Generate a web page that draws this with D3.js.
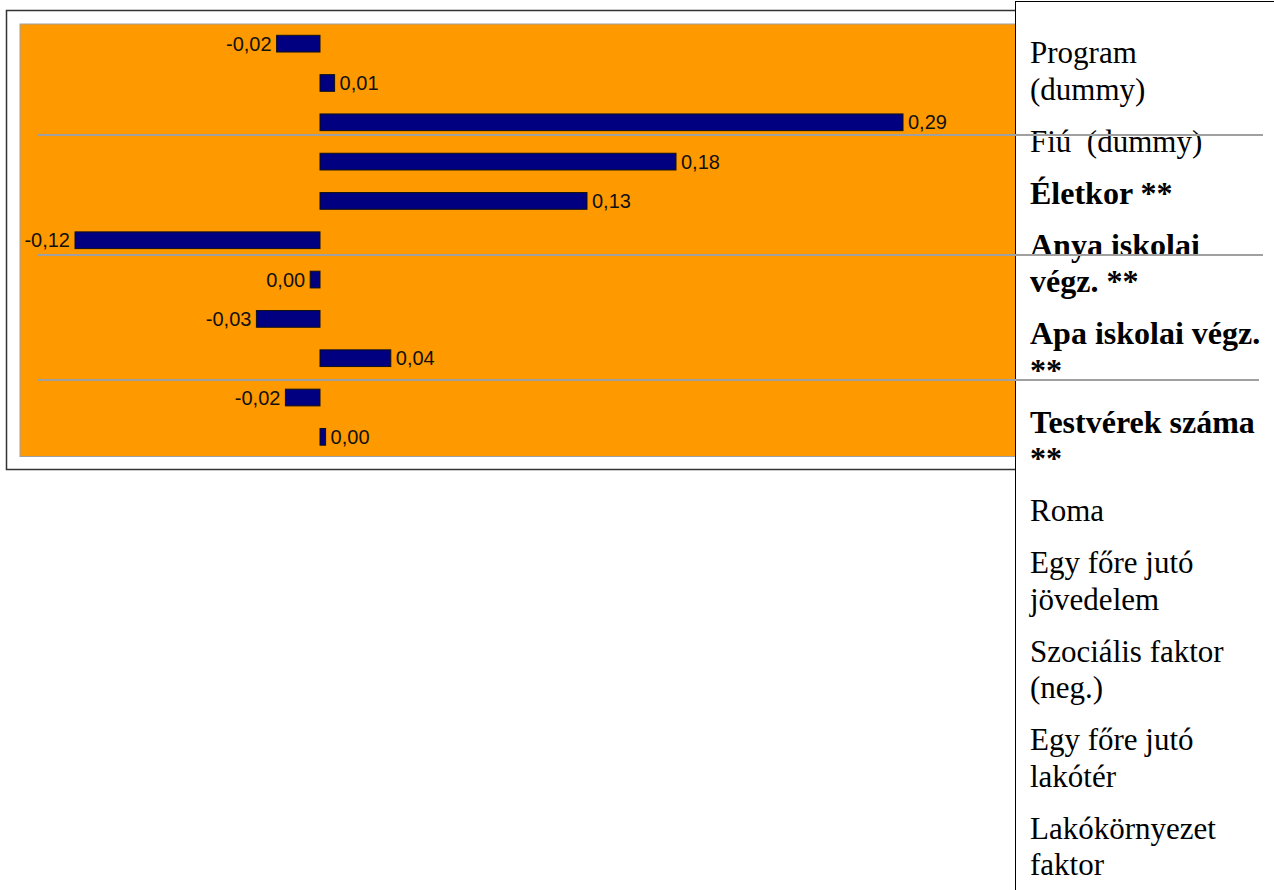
<!DOCTYPE html>
<html>
<head>
<meta charset="utf-8">
<script src="https://cdn.jsdelivr.net/npm/d3@7"></script>
<style>
  html, body { margin: 0; padding: 0; background: #fff; }
  svg { display: block; }
</style>
</head>
<body>
<svg id="chart" width="1274" height="890"></svg>
<script>
// ---- data ----
const categories = [
  "Program (dummy)", "Fiú (dummy)", "Életkor", "Anya iskolai végz.", "Apa iskolai végz.",
  "Testvérek száma", "Roma", "Egy főre jutó jövedelem", "Szociális faktor (neg.)",
  "Egy főre jutó lakótér", "Lakókörnyezet faktor"
];
const values = [-0.0217, 0.0073, 0.2915, 0.178, 0.1335, -0.1225, -0.0049, -0.0318, 0.0354, -0.0173, 0.0028];
const labelLines = [
  ["Program", "(dummy)"],
  ["Fiú  (dummy)"],
  ["Életkor **"],
  ["Anya iskolai", "végz. **"],
  ["Apa iskolai végz.", "**"],
  ["Testvérek száma", "**"],
  ["Roma"],
  ["Egy főre jutó", "jövedelem"],
  ["Szociális faktor", "(neg.)"],
  ["Egy főre jutó", "lakótér"],
  ["Lakókörnyezet", "faktor"]
];
const significant = [false, false, true, true, true, true, false, false, false, false, false];
const xDomain = [-0.15, 0.35];

// ---- layout ----
const svg = d3.select("#chart");
const plot = { left: 20, top: 24, right: 1020, bottom: 456.5 };

// outer chart frame
svg.append("rect")
  .attr("x", 6.5).attr("y", 10.5).attr("width", 1100).attr("height", 459)
  .attr("fill", "#fff").attr("stroke", "#333").attr("stroke-width", 1.5);

const x = d3.scaleLinear().domain(xDomain).range([plot.left, plot.right]);
const y = d3.scaleBand().domain(categories).range([plot.top, plot.bottom])
  .paddingInner(0.575).paddingOuter(0.2875);

svg.append("rect")
  .attr("x", plot.left).attr("y", plot.top)
  .attr("width", 1090 - plot.left).attr("height", plot.bottom - plot.top)
  .attr("fill", "#FF9900").attr("stroke", "#A0A0A0").attr("stroke-width", 1);

const fmt = v => {
  let s = d3.format(".2f")(v).replace("\u2212", "-");
  if (s === "-0.00") s = "0.00";
  return s.replace(".", ",");
};

const g = svg.append("g");
categories.forEach((c, i) => {
  const v = values[i];
  const x0 = x(Math.min(0, v)), x1 = x(Math.max(0, v));
  g.append("rect")
    .attr("x", x0).attr("y", y(c))
    .attr("width", Math.max(1, x1 - x0)).attr("height", y.bandwidth())
    .attr("fill", "#000080").attr("stroke", "#111").attr("stroke-width", 1);
  g.append("text")
    .attr("x", v < 0 ? x0 - 5 : x1 + 5)
    .attr("y", y(c) + y.bandwidth() / 2)
    .attr("dy", "0.36em")
    .attr("text-anchor", v < 0 ? "end" : "start")
    .attr("font-family", "Liberation Sans, Arial, sans-serif")
    .attr("font-size", 20)
    .attr("fill", "#111")
    .text(fmt(v));
});

// right panel (category list)
svg.append("rect")
  .attr("x", 1015.5).attr("y", 1.5).attr("width", 300).attr("height", 900)
  .attr("fill", "#fff").attr("stroke", "#000").attr("stroke-width", 1);

let base = 63;
const panel = svg.append("g");
labelLines.forEach((lines, i) => {
  lines.forEach((ln, j) => {
    if (j > 0) base += 36.5;
    panel.append("text")
      .attr("x", 1030).attr("y", base)
      .attr("font-family", "Liberation Serif, Times New Roman, serif")
      .attr("font-size", significant[i] ? 32 : 31)
      .attr("font-weight", significant[i] ? "bold" : "normal")
      .attr("fill", "#000")
      .style("white-space", "pre")
      .text(ln);
  });
  base += 52;
});

// table rules crossing the picture
const rules = [[37, 1263, 135], [37, 1263, 255], [37, 1259, 380]];
rules.forEach(r => {
  svg.append("line")
    .attr("x1", r[0]).attr("x2", r[1]).attr("y1", r[2]).attr("y2", r[2])
    .attr("stroke", "#A0A0A0").attr("stroke-width", 2);
});
</script>
</body>
</html>
